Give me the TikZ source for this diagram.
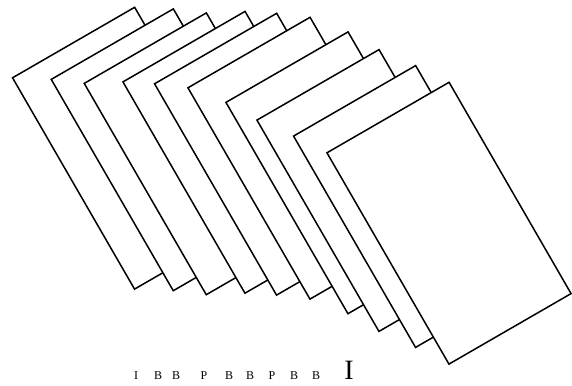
\documentclass[tikz,border=0pt]{standalone}
\usepackage{fontspec}
\setmainfont{Liberation Serif}
\usepackage{tikz}

\begin{document}
\begin{tikzpicture}[x=1pt, y=-1pt,
 frame/.style={draw, fill=white, line width=1.5pt, rotate=30, minimum width=141pt, minimum height=244pt, inner sep=0pt},
 ftype/.style={anchor=base, inner sep=0pt, font=\fontsize{12}{12}\selectfont},
 bigtype/.style={anchor=base, inner sep=0pt, font=\fontsize{28}{28}\selectfont}]
\useasboundingbox (0,0) rectangle (572,385);
% frames, back to front
\node[frame] (f1) at (134.6,148.2) {};
\node[frame] (f2) at (173.3,149.8) {};
\node[frame] (f3) at (206.3,153.8) {};
\node[frame] (f4) at (245.0,152.3) {};
\node[frame] (f5) at (276.6,154.2) {};
\node[frame] (f6) at (310.0,158.2) {};
\node[frame] (f7) at (348.0,172.8) {};
\node[frame] (f8) at (379.0,190.5) {};
\node[frame] (f9) at (415.6,206.5) {};
\node[frame] (f10) at (449.0,223.2) {};
% frame types
\node[ftype] (t1) at (136,379.5) {I};
\node[ftype] (t2) at (158,379.5) {B};
\node[ftype] (t3) at (176,379.5) {B};
\node[ftype] (t4) at (204,379.5) {P};
\node[ftype] (t5) at (229,379.5) {B};
\node[ftype] (t6) at (250,379.5) {B};
\node[ftype] (t7) at (272,379.5) {P};
\node[ftype] (t8) at (294,379.5) {B};
\node[ftype] (t9) at (316,379.5) {B};
\node[bigtype] (t10) at (349,379.5) {I};
\end{tikzpicture}
\end{document}
